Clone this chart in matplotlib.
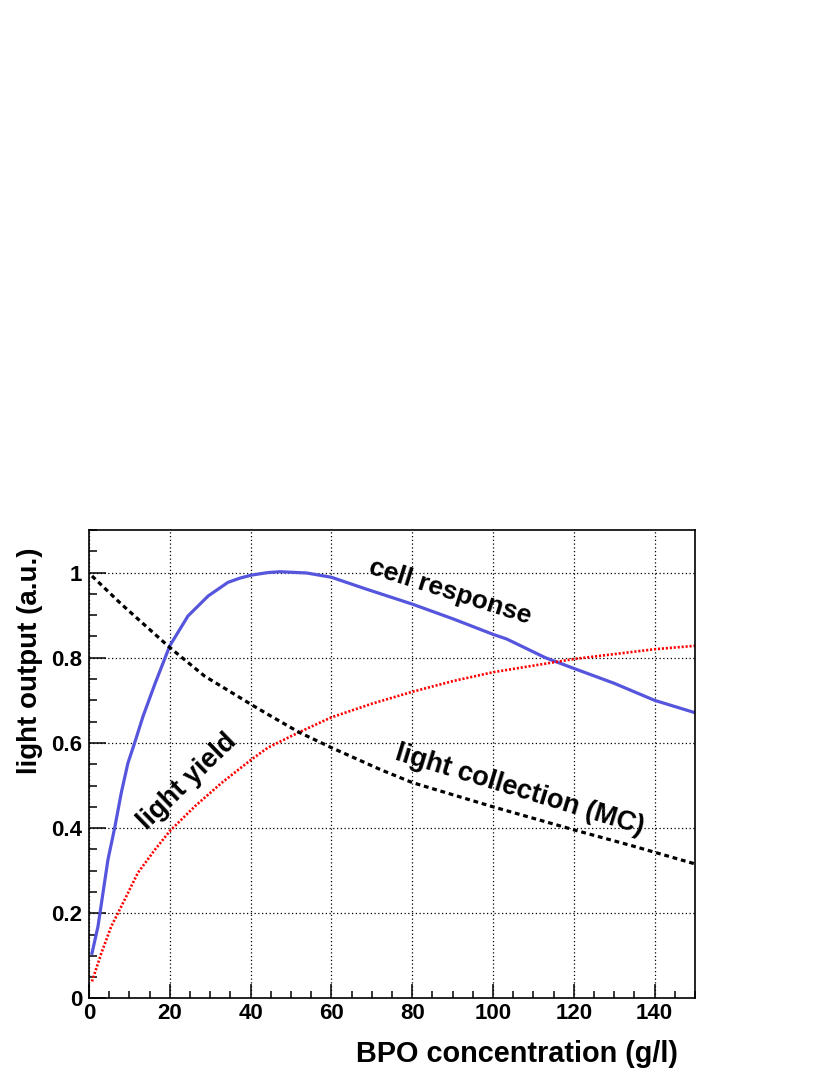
import numpy as np
import matplotlib
matplotlib.use('Agg')
import matplotlib.pyplot as plt
from matplotlib.ticker import MultipleLocator

plt.rcParams['font.family'] = ['Liberation Sans', 'DejaVu Sans']
plt.rcParams['font.weight'] = 'bold'

# valores
x_cell = [0.74, 2.23, 3.47, 4.7, 6.35, 8.0, 9.65, 11.3, 13.4, 16.3, 20.0, 24.5, 29.5, 34.4, 37.4, 40.2,
          44.3, 47.3, 53.9, 60, 68.7, 80, 90.2, 100, 103.4, 113, 120, 130, 140, 150]
y_cell = [0.106, 0.169, 0.248, 0.326, 0.40, 0.483, 0.553, 0.60, 0.663, 0.738, 0.828, 0.898, 0.945, 0.977,
          0.987, 0.994, 1.0, 1.002, 0.999, 0.989, 0.961, 0.926, 0.891, 0.855, 0.844, 0.80, 0.775, 0.74,
          0.70, 0.671]

x_yield = [0.74, 3.05, 5.5, 8.0, 12.1, 16.3, 20, 26.2, 32.8, 40.2, 44.3, 52, 60, 70, 80, 90, 100, 120, 140, 150]
y_yield = [0.040, 0.106, 0.169, 0.216, 0.295, 0.349, 0.393, 0.451, 0.506, 0.561, 0.589, 0.625, 0.66,
           0.692, 0.72, 0.745, 0.766, 0.797, 0.82, 0.828]

x_coll = [0.74, 8, 20, 28.6, 40.2, 44.3, 52, 60, 72, 80, 100, 120, 135, 150]
y_coll = [0.992, 0.926, 0.824, 0.757, 0.69, 0.667, 0.625, 0.589, 0.538, 0.507, 0.45, 0.396, 0.357, 0.316]

xticks = [0, 20, 40, 60, 80, 100, 120, 140]
yticks = [0, 0.2, 0.4, 0.6, 0.8, 1.0]
ytick_labels = ['0', '0.2', '0.4', '0.6', '0.8', '1']

fig = plt.figure(figsize=(8.3, 10.75), dpi=100)
ax = fig.add_axes([0.1072, 0.0712, 0.7301, 0.4358])

ax.plot(x_cell, y_cell, color='#5555DD', lw=2.3)
ax.plot(x_yield, y_yield, color='#FF0000', lw=1.9, linestyle=(0, (0.8, 0.7)))
ax.plot(x_coll, y_coll, color='black', lw=2.3, linestyle=(0, (1.5, 1.2)))

ax.set_xlim(0, 150)
ax.set_ylim(0, 1.1)
ax.xaxis.set_minor_locator(MultipleLocator(5))
ax.yaxis.set_minor_locator(MultipleLocator(0.05))
ax.set_xticks(xticks)
ax.set_xticklabels([str(v) for v in xticks])
ax.set_yticks(yticks)
ax.set_yticklabels(ytick_labels)

ax.grid(True, which='major', color='black', lw=0.9, linestyle=(0, (1, 2)))
ax.tick_params(axis='both', which='both', direction='in', width=1.1, labelsize=16)
ax.tick_params(axis='y', which='major', length=12, pad=5)
ax.tick_params(axis='y', which='minor', length=6)
ax.tick_params(axis='x', which='major', length=10, pad=3)
ax.tick_params(axis='x', which='minor', length=5)
for sp in ax.spines.values():
    sp.set_linewidth(1.2)

# titulos de los ejes
ax.text(0.972, -0.1355, 'BPO concentration (g/l)', transform=ax.transAxes, fontsize=20.8,
        fontweight='bold', ha='right', va='baseline')
fig.text(30/830, 1 - 548/1075, 'light output (a.u.)', rotation=90, fontsize=20,
         fontweight='bold', ha='center', va='top')

ax.text(89.4, 0.954, 'cell response', rotation=-17.5, fontsize=19, fontweight='bold',
        ha='center', va='center', rotation_mode='anchor')
ax.text(24.3, 0.509, 'light yield', rotation=44, fontsize=19.5, fontweight='bold',
        ha='center', va='center', rotation_mode='anchor')
ax.text(106.7, 0.488, 'light collection (MC)', rotation=-16.9, fontsize=19.5, fontweight='bold',
        ha='center', va='center', rotation_mode='anchor')

plt.savefig('out.png', dpi=100)
